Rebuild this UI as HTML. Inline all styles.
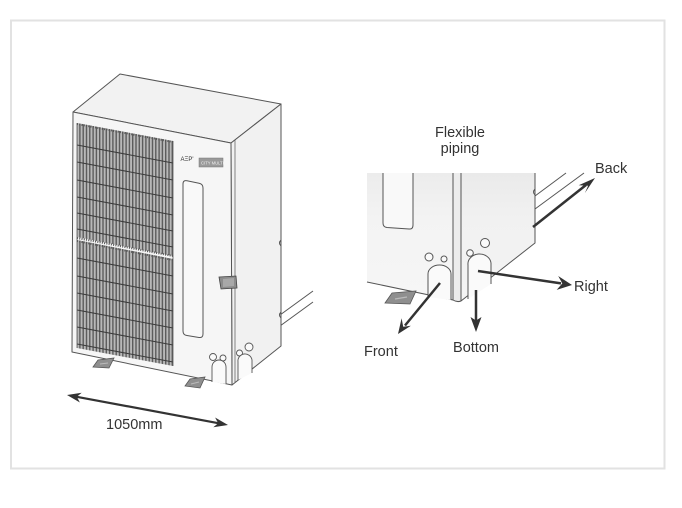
<!DOCTYPE html>
<html>
<head>
<meta charset="utf-8">
<style>
  html,body{margin:0;padding:0;background:#fff;}
  body{width:682px;height:508px;overflow:hidden;}
  svg{display:block;}
  text{font-family:"Liberation Sans",Arial,sans-serif;}
</style>
</head>
<body>
<svg width="682" height="508" viewBox="0 0 682 508" xmlns="http://www.w3.org/2000/svg">
  <defs>
    <pattern id="fins" patternUnits="userSpaceOnUse" width="3.3" height="10">
      <rect x="0" y="0" width="3.3" height="10" fill="#b8b8b8"/>
      <rect x="0" y="0" width="1.4" height="10" fill="#5c5c5c"/>
    </pattern>
    <linearGradient id="gf" x1="0" y1="0" x2="0" y2="1">
      <stop offset="0" stop-color="#ececec"/>
      <stop offset="0.35" stop-color="#f3f3f3"/>
      <stop offset="1" stop-color="#f6f6f6"/>
    </linearGradient>
    <linearGradient id="gs" x1="0" y1="0" x2="0" y2="1">
      <stop offset="0" stop-color="#eaeaea"/>
      <stop offset="0.35" stop-color="#f1f1f1"/>
      <stop offset="1" stop-color="#f4f4f4"/>
    </linearGradient>
    <clipPath id="cu"><polygon points="77,123 173,141 173,256 77,237"/></clipPath>
    <clipPath id="cl"><polygon points="77,240 173,259 173,366 77,348"/></clipPath>
  </defs>

  <rect x="0" y="0" width="682" height="508" fill="#fff"/>
  <!-- frame -->
  <rect x="11" y="20.5" width="653.5" height="448" fill="none" stroke="#e2e2e2" stroke-width="2"/>

  <!-- ================= LEFT UNIT ================= -->
  <g stroke="#555" stroke-width="1" fill="none">
    <line x1="280" y1="315" x2="313" y2="291"/>
    <line x1="280" y1="326" x2="313" y2="302"/>
  </g>
  <polygon points="73,112 120,74 281,104 231,143" fill="#f2f2f2" stroke="#555" stroke-width="1" stroke-linejoin="round"/>
  <polygon points="231,143 281,104 281,346 232,385" fill="#f1f1f1" stroke="#555" stroke-width="1" stroke-linejoin="round"/>
  <polygon points="73,112 231,143 232,385 72,352" fill="#f6f6f6" stroke="#555" stroke-width="1" stroke-linejoin="round"/>
  <line x1="235" y1="140" x2="235" y2="382" stroke="#666" stroke-width="0.8"/>
  <path d="M281,240 q-3,3 0,6" fill="none" stroke="#555" stroke-width="1"/>
  <path d="M281,312 q-3,3 0,6" fill="none" stroke="#555" stroke-width="1"/>

  <!-- coils -->
  <g clip-path="url(#cu)">
    <rect x="70" y="115" width="110" height="150" fill="url(#fins)"/>
    <g stroke="#3a3a3a" stroke-width="1.1">
      <line x1="77" y1="145" x2="173" y2="163"/>
      <line x1="77" y1="162" x2="173" y2="180"/>
      <line x1="77" y1="180" x2="173" y2="198"/>
      <line x1="77" y1="197" x2="173" y2="215"/>
      <line x1="77" y1="213" x2="173" y2="231"/>
      <line x1="77" y1="229" x2="173" y2="247"/>
    </g>
  </g>
  <g clip-path="url(#cl)">
    <rect x="70" y="235" width="110" height="140" fill="url(#fins)"/>
    <g stroke="#3a3a3a" stroke-width="1.1">
      <line x1="77" y1="258" x2="173" y2="276"/>
      <line x1="77" y1="276" x2="173" y2="294"/>
      <line x1="77" y1="293" x2="173" y2="311"/>
      <line x1="77" y1="310" x2="173" y2="328"/>
      <line x1="77" y1="327" x2="173" y2="345"/>
      <line x1="77" y1="344" x2="173" y2="362"/>
    </g>
  </g>
  <g stroke="#555" stroke-width="2" stroke-dasharray="1 1.3" fill="none">
    <line x1="77" y1="124" x2="173" y2="142"/>
    <line x1="77" y1="238" x2="173" y2="256"/>
    <line x1="77" y1="241" x2="173" y2="260"/>
  </g>
  <g stroke="#555" stroke-width="0.8" fill="none">
    <line x1="77" y1="123" x2="77" y2="348"/>
    <line x1="173" y1="141" x2="173" y2="366"/>
  </g>

  <!-- logo -->
  <text x="180.5" y="161" font-size="6" fill="#333">AΞP'</text>
  <rect x="199" y="158" width="24" height="9" fill="#9a9a9a" stroke="#777" stroke-width="0.5"/>
  <text x="201" y="164.5" font-size="4.2" fill="#eee">CITY MULTI</text>

  <!-- window -->
  <path d="M187,180.8 L199,183.2 Q203,184 203,188 L203,334 Q203,338 199,337.5 L187,335.5 Q183,335 183,331 L183,184 Q183,180 187,180.8 Z" fill="#f9f9f9" stroke="#555" stroke-width="1"/>

  <!-- handle -->
  <polygon points="219,277 236,276 237,288 221,289" fill="#8c8c8c" stroke="#444" stroke-width="0.8"/>
  <polygon points="223,279 234,278 234,286 223,287" fill="#a8a8a8"/>

  <!-- holes & knockouts -->
  <g fill="#fafafa" stroke="#555" stroke-width="0.9">
    <circle cx="213" cy="357" r="3.5"/>
    <circle cx="223" cy="358" r="3"/>
    <path d="M212,382 L212,367 A7,7 0 0 1 226,367 L226,384"/>
    <circle cx="239.5" cy="353" r="3"/>
    <circle cx="249" cy="347" r="4"/>
    <path d="M238,380 L238,362 A7,7 0 0 1 252,360 L252,373"/>
  </g>

  <!-- feet -->
  <polygon points="93,367 98,360 114,358 109,368" fill="#8f8f8f" stroke="#555" stroke-width="0.8"/>
  <line x1="100" y1="364" x2="108" y2="363" stroke="#bbb" stroke-width="1"/>
  <polygon points="185,386 190,379 205,377 200,388" fill="#8f8f8f" stroke="#555" stroke-width="0.8"/>
  <line x1="191" y1="384" x2="199" y2="382" stroke="#bbb" stroke-width="1"/>

  <!-- dimension arrow -->
  <line x1="74" y1="396.3" x2="221" y2="423.7" stroke="#333" stroke-width="2.2"/>
  <polygon points="228,425 213.3,427.3 218.2,423.2 215.1,417.5" fill="#333"/>
  <polygon points="67,395 81.7,392.7 76.8,396.8 79.9,402.5" fill="#333"/>
  <text x="106" y="429" font-size="14.5" fill="#333">1050mm</text>

  <!-- ================= RIGHT DETAIL ================= -->
  <g stroke="#555" stroke-width="1" fill="none">
    <line x1="535" y1="196" x2="566" y2="173"/>
    <line x1="535" y1="209" x2="584" y2="173"/>
  </g>
  <polygon points="367,173 453,173 453,300 367,282" fill="url(#gf)"/>
  <polygon points="453,173 461,173 461,301 457,302 453,300" fill="#ececec"/>
  <polygon points="461,173 535,173 535,243 461,301" fill="url(#gs)"/>
  <g stroke="#555" stroke-width="1" fill="none" stroke-linejoin="round">
    <line x1="453" y1="173" x2="453" y2="300"/>
    <line x1="461" y1="173" x2="461" y2="301"/>
    <path d="M367,282 L453,300 Q457,302.5 461,301 L535,243 L535,173"/>
    <path d="M535,189 q-3,3 0,6"/>
  </g>
  <path d="M383,173 L383,223 Q383,227 387,227.5 L409,229 Q413,229.5 413,225 L413,173" fill="#f9f9f9" stroke="#555" stroke-width="1"/>
  <g fill="#fafafa" stroke="#555" stroke-width="1">
    <circle cx="429" cy="257" r="4"/>
    <circle cx="444" cy="259" r="3"/>
    <path d="M428,297 L428,274 A11.5,9 0 0 1 451,274 L451,300"/>
    <circle cx="470" cy="253" r="3.3"/>
    <circle cx="485" cy="243" r="4.5"/>
    <path d="M468,299 L468,265 A11.5,10 0 0 1 491,263 L491,284"/>
  </g>
  <polygon points="385,303 392,293 416,291 410,304" fill="#8f8f8f" stroke="#555" stroke-width="0.8"/>
  <line x1="395" y1="299" x2="407" y2="297" stroke="#bbb" stroke-width="1.2"/>

  <!-- direction arrows -->
  <g stroke="#333" stroke-width="2.5" fill="none">
    <line x1="533" y1="227" x2="586" y2="185"/>
    <line x1="478" y1="271" x2="561" y2="283.4"/>
    <line x1="476" y1="290" x2="476" y2="321"/>
    <line x1="440" y1="283" x2="405" y2="325.5"/>
  </g>
  <g fill="#333">
    <polygon points="595,178 584.9,193.0 588.1,185.7 578.7,185.2"/>
    <polygon points="572,285 556.7,289.9 562.3,283.4 558.2,276.0"/>
    <polygon points="476,332 470.5,317 476,320.5 481.5,317"/>
    <polygon points="398,334 401.6,318.2 403.2,326.8 410.9,325.8"/>
  </g>

  <!-- labels -->
  <g font-size="14.5" fill="#333">
    <text x="460" y="137" text-anchor="middle">Flexible</text>
    <text x="460" y="153" text-anchor="middle">piping</text>
    <text x="595" y="173">Back</text>
    <text x="574" y="291">Right</text>
    <text x="476" y="352" text-anchor="middle">Bottom</text>
    <text x="364" y="356">Front</text>
  </g>
</svg>
</body>
</html>
